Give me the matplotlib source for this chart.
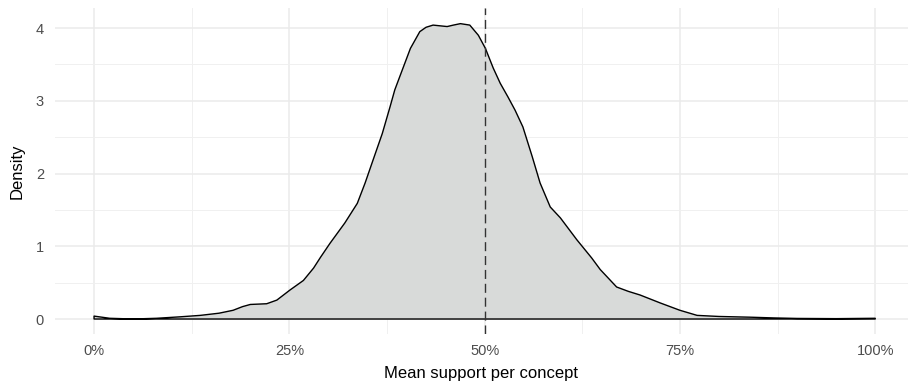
import matplotlib
matplotlib.use("Agg")
import matplotlib.pyplot as plt
from matplotlib.ticker import FixedLocator, FuncFormatter

# density curve (x = mean support, y = density)
support = [0.0, 0.02, 0.05, 0.08, 0.11, 0.136, 0.16, 0.178, 0.19, 0.2, 0.221,
           0.234, 0.251, 0.268, 0.281, 0.29, 0.302, 0.321, 0.337, 0.347, 0.357,
           0.369, 0.379, 0.385, 0.392, 0.405, 0.417, 0.425, 0.434, 0.443, 0.452,
           0.460, 0.469, 0.481, 0.492, 0.501, 0.511, 0.520, 0.530, 0.539, 0.549,
           0.561, 0.571, 0.584, 0.597, 0.618, 0.637, 0.648, 0.669, 0.684, 0.699,
           0.725, 0.75, 0.772, 0.80, 0.84, 0.87, 0.90, 0.95, 1.0]
density = [0.04, 0.01, 0.0, 0.01, 0.03, 0.05, 0.08, 0.12, 0.17, 0.2, 0.21,
           0.26, 0.4, 0.53, 0.7, 0.85, 1.04, 1.32, 1.59, 1.87, 2.18,
           2.55, 2.92, 3.15, 3.35, 3.72, 3.95, 4.01, 4.04, 4.03, 4.02,
           4.04, 4.06, 4.04, 3.90, 3.72, 3.45, 3.24, 3.05, 2.87, 2.64,
           2.23, 1.87, 1.54, 1.39, 1.09, 0.84, 0.68, 0.44, 0.38, 0.33,
           0.22, 0.12, 0.05, 0.035, 0.025, 0.015, 0.008, 0.005, 0.01]
ref_line = 0.5

x_ticks = [0, 0.25, 0.5, 0.75, 1.0]
y_ticks = [0, 1, 2, 3, 4]

plt.rcParams['font.family'] = ['Liberation Sans', 'DejaVu Sans']

fig = plt.figure(figsize=(9.1, 3.84), dpi=100)
ax = fig.add_axes([55 / 910, 50 / 384, 853 / 910, 326 / 384])

# closed polygon like geom_density
poly_x = support + [support[-1], support[0]]
poly_y = density + [0, 0]
ax.fill(poly_x, poly_y, facecolor='#D8DAD9', edgecolor='black', linewidth=1.0,
        closed=True, joinstyle='round', zorder=2)
ax.axvline(ref_line, color='#333333', linestyle=(0, (6.5, 3.5)), linewidth=1.0, zorder=3)

ax.set_xlim(-0.05, 1.042)
ax.set_ylim(-0.206, 4.275)

ax.xaxis.set_major_locator(FixedLocator(x_ticks))
ax.xaxis.set_minor_locator(FixedLocator([0.125, 0.375, 0.625, 0.875]))
ax.yaxis.set_major_locator(FixedLocator(y_ticks))
ax.yaxis.set_minor_locator(FixedLocator([0.5, 1.5, 2.5, 3.5]))
ax.xaxis.set_major_formatter(FuncFormatter(lambda v, p: f"{v * 100:.0f}%"))

ax.grid(which='major', color='#EBEBEB', linewidth=1.1, zorder=0)
ax.grid(which='minor', color='#F0F0F0', linewidth=0.7, zorder=0)
ax.set_axisbelow(True)

for s in ax.spines.values():
    s.set_visible(False)
ax.tick_params(which='both', length=0)
ax.tick_params(axis='x', pad=7, labelsize=10.5, labelcolor='#4D4D4D')
ax.tick_params(axis='y', pad=8, labelsize=10.5, labelcolor='#4D4D4D')

ax.set_xlabel('Mean support per concept', fontsize=12, labelpad=6)
ax.set_ylabel('Density', fontsize=12, labelpad=8)

fig.savefig('out.png', dpi=100)
